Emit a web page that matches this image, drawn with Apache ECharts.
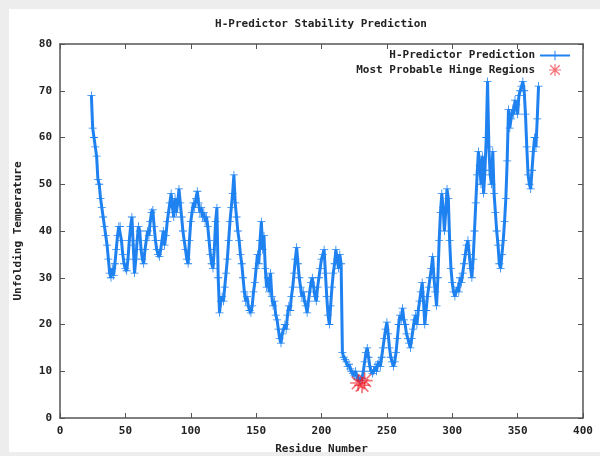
<!DOCTYPE html>
<html>
<head>
<meta charset="utf-8">
<script src="https://cdn.jsdelivr.net/npm/echarts@6/dist/echarts.min.js"></script>
<style>
  html, body { margin: 0; padding: 0; background: #ededed; }
  #chart { position: absolute; left: 9px; top: 9px; width: 591px; height: 443px; background: #fff; }
</style>
</head>
<body>
<div id="chart"></div>
<script>
// residue numbers along the chain
const residues = [
  24, 25, 26, 27, 28, 29, 30, 31, 32, 33, 34, 35, 36, 37, 38, 39, 40, 41, 42, 43,
  44, 45, 46, 47, 48, 49, 50, 51, 52, 53, 54, 55, 56, 57, 58, 59, 60, 61, 62, 63,
  64, 65, 66, 67, 68, 69, 70, 71, 72, 73, 74, 75, 76, 77, 78, 79, 80, 81, 82, 83,
  84, 85, 86, 87, 88, 89, 90, 91, 92, 93, 94, 95, 96, 97, 98, 99, 100, 101, 102, 103,
  104, 105, 106, 107, 108, 109, 110, 111, 112, 113, 114, 115, 116, 117, 118, 119, 120, 121, 122, 123,
  124, 125, 126, 127, 128, 129, 130, 131, 132, 133, 134, 135, 136, 137, 138, 139, 140, 141, 142, 143,
  144, 145, 146, 147, 148, 149, 150, 151, 152, 153, 154, 155, 156, 157, 158, 159, 160, 161, 162, 163,
  164, 165, 166, 167, 168, 169, 170, 171, 172, 173, 174, 175, 176, 177, 178, 179, 180, 181, 182, 183,
  184, 185, 186, 187, 188, 189, 190, 191, 192, 193, 194, 195, 196, 197, 198, 199, 200, 201, 202, 203,
  204, 205, 206, 207, 208, 209, 210, 211, 212, 213, 214, 215, 216, 217, 218, 219, 220, 221, 222, 223,
  224, 225, 226, 227, 228, 229, 230, 231, 232, 233, 234, 235, 236, 237, 238, 239, 240, 241, 242, 243,
  244, 245, 246, 247, 248, 249, 250, 251, 252, 253, 254, 255, 256, 257, 258, 259, 260, 261, 262, 263,
  264, 265, 266, 267, 268, 269, 270, 271, 272, 273, 274, 275, 276, 277, 278, 279, 280, 281, 282, 283,
  284, 285, 286, 287, 288, 289, 290, 291, 292, 293, 294, 295, 296, 297, 298, 299, 300, 301, 302, 303,
  304, 305, 306, 307, 308, 309, 310, 311, 312, 313, 314, 315, 316, 317, 318, 319, 320, 321, 322, 323,
  324, 325, 326, 327, 328, 329, 330, 331, 332, 333, 334, 335, 336, 337, 338, 339, 340, 341, 342, 343,
  344, 345, 346, 347, 348, 349, 350, 351, 352, 353, 354, 355, 356, 357, 358, 359, 360, 361, 362, 363,
  364, 365, 366
];

// predicted unfolding temperature per residue
const temps = [
  69, 62, 60, 58, 56, 51, 50, 47, 45, 43,
  41, 39, 37, 34, 31, 30, 32, 30.5, 33, 36,
  39, 41, 41, 38, 35, 33, 32, 31.5, 34, 38,
  41, 43, 37, 31, 34, 38, 41, 40, 36, 34,
  33, 36, 38, 40, 39, 42, 44, 44.5, 41, 38,
  36, 35, 34.5, 36, 38, 40, 37, 39, 42, 44,
  46, 48, 45, 43, 47, 44, 46, 49, 46, 43,
  40, 38, 36, 34, 33, 38, 42, 44, 46, 45,
  47, 48.5, 46, 44, 45, 43, 44, 42, 43, 41,
  38, 35, 33, 32, 36, 42, 45, 30, 22.5, 25,
  26, 25, 28, 31, 34, 38, 42, 45, 48, 52,
  46, 43, 40, 38, 35, 33, 30, 27, 25, 26,
  24, 23, 22.5, 24, 27, 29, 32, 35, 33, 38,
  42, 36, 39, 32, 28, 30, 27, 31, 26, 24,
  25, 22, 21, 19, 17, 16, 18, 19, 20, 19,
  22, 24, 23, 26, 28, 31, 34, 36.5, 33, 30,
  28, 26, 27, 25, 24, 22.5, 25, 27, 29, 30,
  28, 26, 25, 28, 30, 32, 34, 35, 36, 31,
  26, 22, 20, 24, 28, 31, 33, 36, 34, 32,
  35, 33, 14, 13, 12.5, 12, 11, 11.5, 10.5, 10,
  9.5, 9, 10, 9, 8.5, 8, 8, 8.5, 10, 12,
  14, 15, 13, 11, 10, 9.5, 10, 11, 10, 11.5,
  12, 11, 13, 15, 17, 19, 20.5, 18, 15, 13,
  12, 11, 12, 14, 17, 20, 22, 21, 23.5, 21,
  20, 18, 17, 16, 15, 17, 19, 21, 22, 20,
  23, 25, 27, 29, 25, 20, 23, 26, 28, 30,
  32, 34.5, 30, 27, 24, 30, 38, 44, 48, 45,
  40, 44, 49, 47, 38, 32, 29, 27, 26, 27,
  28, 27, 30, 29, 31, 33, 35, 37, 38, 35,
  32, 30, 34, 40, 46, 52, 57, 54, 50, 56,
  48, 53, 60, 72, 58, 52, 50, 57, 48, 44,
  40, 37, 33, 32, 35, 38, 42, 47, 55, 66,
  62, 64, 66, 65, 68, 67, 65, 69, 70, 71,
  72, 70, 65, 58, 52, 50, 49, 53, 57, 60,
  58, 64, 71
];

// hinge markers
const hingeResidues = [228, 231, 233];
const hingeTemps = [7.5, 7, 8];

const xTicks = [0, 50, 100, 150, 200, 250, 300, 350, 400];
const yTicks = [0, 10, 20, 30, 40, 50, 60, 70, 80];

const plusPath = 'path://M9 0 L11 0 L11 9 L20 9 L20 11 L11 11 L11 20 L9 20 L9 11 L0 11 L0 9 L9 9 Z';
const starPath = 'path://M0 9 L20 9 L20 11 L0 11 Z M9 0 L11 0 L11 20 L9 20 Z ' +
  'M1.4 2.8 L2.8 1.4 L18.6 17.2 L17.2 18.6 Z M17.2 1.4 L18.6 2.8 L2.8 18.6 L1.4 17.2 Z';

const font = 'DejaVu Sans Mono';
const labelStyle = { color: '#222', fontFamily: font, fontWeight: 'bold', fontSize: 11 };
const frameLine = { show: true, onZero: false, lineStyle: { color: '#555', width: 1.5 } };

const chart = echarts.init(document.getElementById('chart'));

const mirrorAxis = (extra) => Object.assign({
  type: 'value',
  axisLine: frameLine,
  axisTick: { show: true, inside: true, length: 5, lineStyle: { color: '#555' } },
  axisLabel: { show: false },
  splitLine: { show: false }
}, extra);

chart.setOption({
  animation: false,
  title: {
    text: 'H-Predictor Stability Prediction',
    left: 307,
    top: 5,
    textAlign: 'center',
    textStyle: labelStyle
  },
  legend: {
    orient: 'vertical',
    right: 24,
    top: 36,
    align: 'right',
    itemWidth: 30,
    itemHeight: 12,
    itemGap: 3,
    textStyle: labelStyle,
    data: ['H-Predictor Prediction', 'Most Probable Hinge Regions']
  },
  grid: {
    left: 51, top: 35, width: 523, height: 374,
    containLabel: false,
    outerBoundsMode: 'none'
  },
  xAxis: [
    mirrorAxis({
      min: 0, max: 400, interval: 50,
      name: 'Residue Number',
      nameLocation: 'middle',
      nameGap: 26,
      nameTextStyle: labelStyle,
      axisLabel: Object.assign({
        show: true, margin: 8,
        formatter: (v) => (xTicks.includes(v) ? String(v) : '')
      }, labelStyle)
    }),
    mirrorAxis({ min: 0, max: 400, interval: 50, position: 'top' })
  ],
  yAxis: [
    mirrorAxis({
      min: 0, max: 80, interval: 10,
      name: 'Unfolding Temperature',
      nameLocation: 'middle',
      nameGap: 36,
      nameTextStyle: labelStyle,
      axisLabel: Object.assign({
        show: true, margin: 8,
        formatter: (v) => (yTicks.includes(v) ? String(v) : '')
      }, labelStyle)
    }),
    mirrorAxis({ min: 0, max: 80, interval: 10, position: 'right' })
  ],
  series: [
    {
      name: 'H-Predictor Prediction',
      type: 'line',
      data: residues.map((r, i) => [r, temps[i]]),
      symbol: plusPath,
      symbolSize: 8,
      showAllSymbol: true,
      lineStyle: { color: '#1f82f0', width: 3 },
      itemStyle: { color: '#1f82f0' },
      z: 2
    },
    {
      name: 'Most Probable Hinge Regions',
      type: 'scatter',
      data: hingeResidues.map((r, i) => [r, hingeTemps[i]]),
      symbol: starPath,
      symbolSize: 16,
      itemStyle: { color: 'rgba(240, 30, 40, 0.8)' },
      z: 3
    }
  ]
});
</script>
</body>
</html>
